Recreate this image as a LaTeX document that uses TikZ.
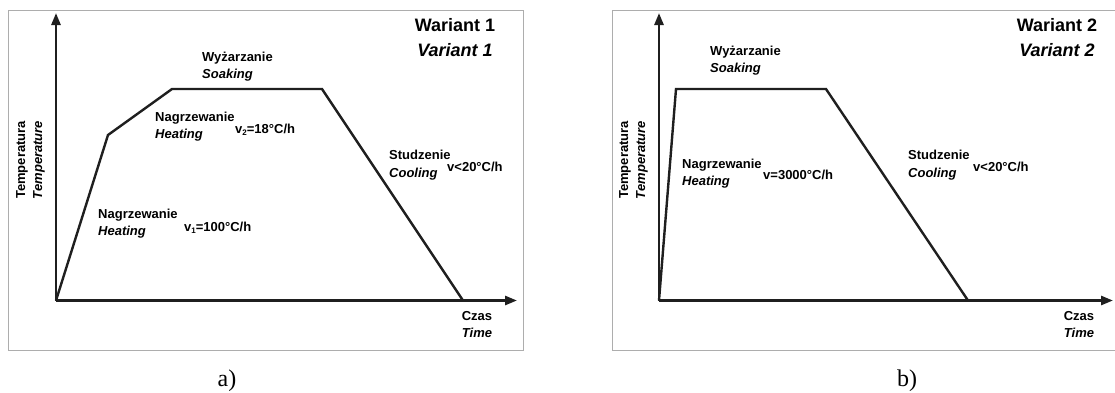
\documentclass[tikz,border=0pt]{standalone}
\usepackage{fontspec}
\setmainfont{Liberation Sans}
\newfontfamily\capfont{Liberation Serif}
\usetikzlibrary{arrows.meta}
\tikzset{
  frameline/.style={draw=black!32, line width=1pt},
  axisline/.style={draw=black!88, line width=2.6pt, -{Triangle[length=12pt,width=9pt]}},
  curveline/.style={draw=black!88, line width=2.4pt, line join=miter},
  lbl/.style={inner sep=0pt, anchor=base west, font=\fontsize{13}{13}\selectfont\bfseries},
  ilbl/.style={lbl, font=\fontsize{13}{13}\selectfont\bfseries\itshape},
  axlbl/.style={inner sep=0pt, anchor=center, font=\fontsize{13}{13}\selectfont\bfseries},
  iaxlbl/.style={axlbl, font=\fontsize{13}{13}\selectfont\bfseries\itshape},
  ttl/.style={inner sep=0pt, anchor=center, font=\fontsize{18}{18}\selectfont\bfseries},
  ittl/.style={ttl, font=\fontsize{18}{18}\selectfont\bfseries\itshape},
  caplbl/.style={inner sep=0pt, anchor=center, font=\capfont\fontsize{24}{24}\selectfont},
}
\newcommand{\subnum}[1]{\raisebox{-2.5pt}{\fontsize{8}{8}\selectfont #1}}
\begin{document}
\begin{tikzpicture}[x=1pt, y=-1pt]
\useasboundingbox (0,0) rectangle (1115,392);
% ---------- panel a ----------
\draw[frameline] (8,10) rectangle (523,350);
\coordinate (oa) at (56,300.5);
\coordinate (ya) at (56,13);
\coordinate (xa) at (517,300.5);
\coordinate (ka) at (108,135);
\coordinate (pa1) at (172,89);
\coordinate (pa2) at (322,89);
\coordinate (ea) at (463,300.5);
\draw[axisline] (oa) -- (ya);
\draw[axisline] (oa) -- (xa);
\draw[curveline] (oa) -- (ka) -- (pa1) -- (pa2) -- (ea);
\node[ttl] (wa1) at (455,25) {Wariant 1};
\node[ittl] (va1) at (455,50) {Variant 1};
\node[lbl] (wya) at (202,61) {Wyżarzanie};
\node[ilbl] (soa) at (202,78) {Soaking};
\node[lbl] (n2a) at (155,121) {Nagrzewanie};
\node[ilbl] (h2a) at (155,138) {Heating};
\node[lbl] (v2a) at (235,133) {v\subnum{2}=18°C/h};
\node[lbl] (sta) at (389,159) {Studzenie};
\node[ilbl] (coa) at (389,177) {Cooling};
\node[lbl] (vca) at (447,171) {v<20°C/h};
\node[lbl] (n1a) at (98,218) {Nagrzewanie};
\node[ilbl] (h1a) at (98,235) {Heating};
\node[lbl] (v1a) at (184,231) {v\subnum{1}=100°C/h};
\node[axlbl] (cza) at (477,316) {Czas};
\node[iaxlbl] (tia) at (477,333) {Time};
\node[axlbl, rotate=90] (tea) at (22,160) {Temperatura};
\node[iaxlbl, rotate=90] (tta) at (39,160) {Temperature};
\node[caplbl] (capa) at (227,381) {a)};
% ---------- panel b ----------
\draw[frameline] (1116,10) -- (612,10) -- (612,350) -- (1116,350);
\coordinate (ob) at (659,300.5);
\coordinate (yb) at (659,13);
\coordinate (xb) at (1113,300.5);
\coordinate (pb1) at (676,89);
\coordinate (pb2) at (826,89);
\coordinate (eb) at (968,300.5);
\draw[axisline] (ob) -- (yb);
\draw[axisline] (ob) -- (xb);
\draw[curveline] (ob) -- (pb1) -- (pb2) -- (eb);
\node[ttl] (wb2) at (1057,25) {Wariant 2};
\node[ittl] (vb2) at (1057,50) {Variant 2};
\node[lbl] (wyb) at (710,55) {Wyżarzanie};
\node[ilbl] (sob) at (710,72) {Soaking};
\node[lbl] (nb) at (682,168) {Nagrzewanie};
\node[ilbl] (hb) at (682,185) {Heating};
\node[lbl] (vb) at (763,179) {v=3000°C/h};
\node[lbl] (stb) at (908,159) {Studzenie};
\node[ilbl] (cob) at (908,177) {Cooling};
\node[lbl] (vcb) at (973,171) {v<20°C/h};
\node[axlbl] (czb) at (1079,316) {Czas};
\node[iaxlbl] (tib) at (1079,333) {Time};
\node[axlbl, rotate=90] (teb) at (625,160) {Temperatura};
\node[iaxlbl, rotate=90] (ttb) at (642,160) {Temperature};
\node[caplbl] (capb) at (907,381) {b)};
\end{tikzpicture}
\end{document}
